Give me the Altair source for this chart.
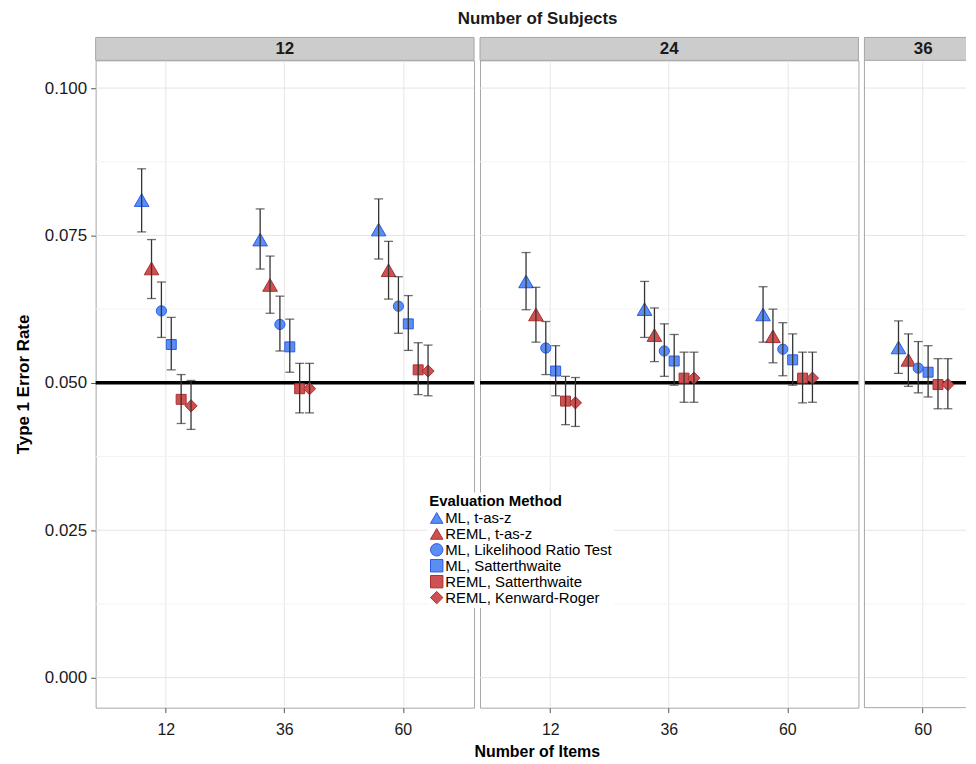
import altair as alt
import pandas as pd

methods = ["ML, t-as-z", "REML, t-as-z", "ML, Likelihood Ratio Test",
           "ML, Satterthwaite", "REML, Satterthwaite", "REML, Kenward-Roger"]
shapes = ["triangle-up", "triangle-up", "circle", "square", "square", "diamond"]
fills = ["#5a8ef5", "#cf5050", "#5a8ef5", "#5a8ef5", "#cf5050", "#cf5050"]
strokes = ["#2a5ae8", "#a83030", "#2a5ae8", "#2a5ae8", "#a83030", "#a83030"]
sizes = [215, 215, 105, 100, 100, 150]

subjects = ["12", "24", "36"]
items_s12 = ["12", "36", "60"]
items_s24 = ["12", "36", "60"]
items_s36 = ["60"]

# Type 1 error rates, one row per Number of Items, one value per method
rate_s12 = [[0.0810, 0.0694, 0.0622, 0.0565, 0.0472, 0.0461],
            [0.0743, 0.0666, 0.0599, 0.0561, 0.0490, 0.0490],
            [0.0760, 0.0691, 0.0630, 0.0600, 0.0522, 0.0520]]
lower_s12 = [[0.0756, 0.0643, 0.0577, 0.0522, 0.0431, 0.0421],
             [0.0693, 0.0618, 0.0554, 0.0518, 0.0449, 0.0449],
             [0.0710, 0.0642, 0.0584, 0.0555, 0.0480, 0.0478]]
upper_s12 = [[0.0863, 0.0743, 0.0671, 0.0611, 0.0514, 0.0504],
             [0.0795, 0.0715, 0.0647, 0.0608, 0.0533, 0.0533],
             [0.0812, 0.0740, 0.0680, 0.0648, 0.0568, 0.0564]]

rate_s24 = [[0.0672, 0.0616, 0.0559, 0.0520, 0.0469, 0.0466],
            [0.0625, 0.0581, 0.0554, 0.0537, 0.0508, 0.0508],
            [0.0616, 0.0579, 0.0557, 0.0539, 0.0508, 0.0508]]
lower_s24 = [[0.0624, 0.0569, 0.0514, 0.0478, 0.0429, 0.0426],
             [0.0577, 0.0536, 0.0511, 0.0496, 0.0467, 0.0467],
             [0.0569, 0.0534, 0.0512, 0.0496, 0.0466, 0.0467]]
upper_s24 = [[0.0721, 0.0662, 0.0604, 0.0563, 0.0511, 0.0509],
             [0.0672, 0.0627, 0.0600, 0.0582, 0.0552, 0.0552],
             [0.0663, 0.0625, 0.0602, 0.0583, 0.0552, 0.0552]]

rate_s36 = [[0.0560, 0.0539, 0.0525, 0.0518, 0.0497, 0.0497]]
lower_s36 = [[0.0516, 0.0494, 0.0483, 0.0476, 0.0456, 0.0456]]
upper_s36 = [[0.0605, 0.0583, 0.0570, 0.0563, 0.0541, 0.0541]]

y_major = [0.0, 0.025, 0.05, 0.075, 0.1]
y_minor = [0.0125, 0.0375, 0.0625, 0.0875]
ref_line = [0.05]
y_domain = [-0.0051, 0.1047]

FONT = "Liberation Sans"
PLOT_H = 650
STRIP_H = 23
BORDER = "#a6a6a6"


def build_df(subj, items, rate, lower, upper):
    rows = []
    for i, it in enumerate(items):
        for m, meth in enumerate(methods):
            rows.append({"Subjects": subj, "Items": it, "Method": meth, "sz": sizes[m],
                         "rate": rate[i][m], "lo": lower[i][m], "hi": upper[i][m]})
    return pd.DataFrame(rows)


def panel(subj, items, rate, lower, upper, width, pad_inner, pad_outer, align,
          first=False, x_title=None, title_x=0, strip_x=None, open_right=False):
    df = build_df(subj, items, rate, lower, upper)
    xscale = alt.Scale(domain=items, paddingInner=pad_inner, paddingOuter=pad_outer, align=align)
    xaxis_kw = dict(labelFontSize=16, labelColor="#1a1a1a", labelFont=FONT, labelAngle=0,
                    tickColor="#555555", tickSize=5, labelPadding=9, domain=False,
                    gridColor="#e6e6e6", grid=True)
    if x_title:
        xaxis = alt.Axis(title=x_title, titleFontSize=16, titleFont=FONT, titleFontWeight="bold",
                         titleX=title_x, titlePadding=6, **xaxis_kw)
    else:
        xaxis = alt.Axis(title=None, **xaxis_kw)
    if first:
        yaxis = alt.Axis(values=y_major, format=".3f", labelFontSize=17, labelColor="#1a1a1a",
                         labelFont=FONT, tickColor="#555555", tickSize=5, labelPadding=4,
                         title="Type 1 Error Rate", titleFontSize=17, titleFont=FONT,
                         titleFontWeight="bold", titlePadding=12, domain=False, grid=False)
    else:
        yaxis = None
    yscale = alt.Scale(domain=y_domain, nice=False, zero=False)
    xoff = alt.XOffset("Method:N", sort=methods,
                       scale=alt.Scale(domain=methods, paddingInner=0, paddingOuter=0))
    X = alt.X("Items:N", sort=items, scale=xscale, axis=xaxis)

    minor = alt.Chart(pd.DataFrame({"v": y_minor})).mark_rule(
        color="#f3f3f3", strokeWidth=1).encode(y=alt.Y("v:Q", scale=yscale, axis=yaxis))
    major = alt.Chart(pd.DataFrame({"v": y_major})).mark_rule(
        color="#e4e4e4", strokeWidth=1).encode(y=alt.Y("v:Q", axis=yaxis))
    ref = alt.Chart(pd.DataFrame({"v": ref_line})).mark_rule(
        color="black", strokeWidth=3.5).encode(y=alt.Y("v:Q", axis=yaxis))
    pts = alt.Chart(df).mark_point(filled=True, opacity=1, strokeWidth=1).encode(
        x=X, xOffset=xoff,
        y=alt.Y("rate:Q", axis=yaxis),
        shape=alt.Shape("Method:N", sort=methods,
                        scale=alt.Scale(domain=methods, range=shapes),
                        legend=alt.Legend(title="Evaluation Method")),
        fill=alt.Fill("Method:N", sort=methods,
                      scale=alt.Scale(domain=methods, range=fills),
                      legend=alt.Legend(title="Evaluation Method")),
        stroke=alt.Stroke("Method:N", sort=methods,
                          scale=alt.Scale(domain=methods, range=strokes),
                          legend=alt.Legend(title="Evaluation Method")),
        size=alt.Size("sz:Q", scale=None, legend=None),
    )
    bars = alt.Chart(df).mark_rule(color="#333333", strokeWidth=1.3).encode(
        x=X, xOffset=xoff, y=alt.Y("lo:Q", axis=yaxis), y2="hi:Q")
    cap_lo = alt.Chart(df).mark_tick(color="#333333", thickness=1.3, size=9).encode(
        x=X, xOffset=xoff, y=alt.Y("lo:Q", axis=yaxis))
    cap_hi = alt.Chart(df).mark_tick(color="#333333", thickness=1.3, size=9).encode(
        x=X, xOffset=xoff, y=alt.Y("hi:Q", axis=yaxis))

    sdf = pd.DataFrame({"Subjects": [subj]})
    strip = alt.Chart(sdf).mark_rect(
        fill="#cccccc", stroke="transparent" if open_right else BORDER, strokeWidth=1).encode(
        x=alt.value(0), x2=alt.value(width), y=alt.value(-STRIP_H), y2=alt.value(0))
    strip_text = alt.Chart(sdf).mark_text(fontSize=17, fontWeight="bold", font=FONT,
                                          color="#1a1a1a", baseline="middle").encode(
        x=alt.value(strip_x if strip_x is not None else width / 2),
        y=alt.value(-STRIP_H / 2), text="Subjects:N")

    layers = [minor, major, ref, pts, bars, cap_lo, cap_hi, strip, strip_text]
    if open_right:
        edge = alt.Chart(sdf).mark_rule(color=BORDER, strokeWidth=1)
        layers += [
            edge.encode(x=alt.value(0), y=alt.value(-STRIP_H), y2=alt.value(PLOT_H)),
            edge.encode(x=alt.value(0), x2=alt.value(width), y=alt.value(-STRIP_H)),
            edge.encode(x=alt.value(0), x2=alt.value(width), y=alt.value(0)),
            edge.encode(x=alt.value(0), x2=alt.value(width), y=alt.value(PLOT_H)),
        ]
    ch = alt.layer(*layers).properties(width=width, height=PLOT_H)
    if open_right:
        ch = ch.properties(view=alt.ViewBackground(strokeOpacity=0))
    return ch


p1 = panel(subjects[0], items_s12, rate_s12, lower_s12, upper_s12, 380, 0.5, 0.3466, 0.5,
           first=True)
p2 = panel(subjects[1], items_s24, rate_s24, lower_s24, upper_s24, 380, 0.5, 0.3466, 0.5,
           x_title="Number of Items", title_x=57)
p3 = panel(subjects[2], items_s36, rate_s36, lower_s36, upper_s36, 102, 0.4167, 0.2083, 0.688,
           strip_x=59, open_right=True)

chart = alt.hconcat(p1, p2, p3, spacing=6, bounds="flush").resolve_scale(
    x="independent", y="shared", xOffset="independent"
).properties(
    title=alt.TitleParams("Number of Subjects", fontSize=17, fontWeight="bold", font=FONT,
                          color="#1a1a1a", anchor="middle", offset=9, dx=47),
    padding={"left": 5, "top": 0, "right": 0, "bottom": -2},
).configure_view(
    stroke=BORDER, strokeWidth=1
).configure_legend(
    orient="none", legendX=333, legendY=434,
    titleFontSize=15, titleFont=FONT, titleFontWeight="bold", titleColor="#000000",
    labelFontSize=15, labelFont=FONT, labelColor="#000000", labelLimit=0,
    symbolSize=155, symbolStrokeWidth=1, rowPadding=-3, labelOffset=1,
    fillColor="white", padding=2, titlePadding=1, symbolOffset=0,
)

chart.save("out.html", embed_options={"renderer": "svg", "actions": False})
